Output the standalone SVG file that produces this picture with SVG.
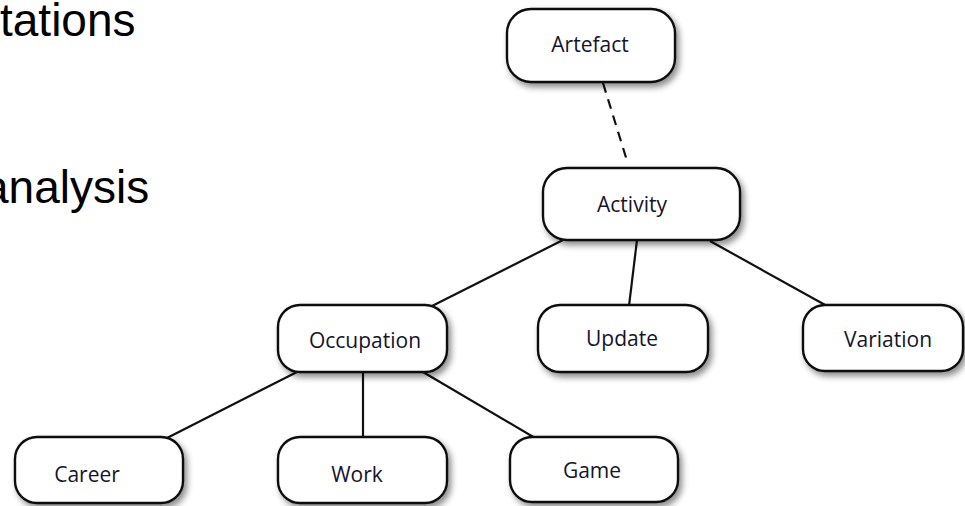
<svg xmlns="http://www.w3.org/2000/svg" width="965" height="506" viewBox="0 0 965 506">
<style>
.box{fill:#fff;stroke:#111;stroke-width:2.4;filter:url(#sh)}
.lbl{font-family:"Open Sans","Noto Sans",sans-serif;font-size:21px;fill:#14142a;text-anchor:middle}
.big{font-family:"Liberation Sans",Arial,sans-serif;font-size:46px;fill:#000}
.edge{stroke:#111;stroke-width:2.2;fill:none}
</style>
<defs>
<filter id="sh" x="-20%" y="-30%" width="150%" height="170%">
<feDropShadow dx="3" dy="4" stdDeviation="3" flood-color="#000" flood-opacity="0.45"/>
</filter>
</defs>
<rect width="965" height="506" fill="#fff"/>
<text class="big" x="0" y="36">tations</text>
<text class="big" x="-17" y="203">analysis</text>
<g id="connectors">
<line class="edge" x1="603" y1="83" x2="628" y2="164" stroke-dasharray="10,7"/>
<line class="edge" x1="563" y1="240" x2="432" y2="306"/>
<line class="edge" x1="637" y1="240" x2="629" y2="306"/>
<line class="edge" x1="710" y1="241" x2="827" y2="306"/>
<line class="edge" x1="297" y1="372" x2="167" y2="438"/>
<line class="edge" x1="363" y1="372" x2="363" y2="438"/>
<line class="edge" x1="423" y1="372" x2="535" y2="438"/>
</g>
<g id="artefact"><rect class="box" x="507" y="9" width="168" height="73" rx="24"/><text class="lbl" x="590" y="52">Artefact</text></g>
<g id="activity"><rect class="box" x="543" y="168" width="197" height="72" rx="24"/><text class="lbl" x="632" y="212">Activity</text></g>
<g id="occupation"><rect class="box" x="278" y="305" width="169" height="67" rx="22"/><text class="lbl" x="365" y="348">Occupation</text></g>
<g id="update"><rect class="box" x="538" y="305" width="170" height="67" rx="22"/><text class="lbl" x="622" y="346">Update</text></g>
<g id="variation"><rect class="box" x="803" y="305" width="160" height="66" rx="22"/><text class="lbl" x="888" y="347">Variation</text></g>
<g id="career"><rect class="box" x="15" y="437" width="168" height="66" rx="22"/><text class="lbl" x="87" y="482">Career</text></g>
<g id="work"><rect class="box" x="278" y="437" width="169" height="66" rx="22"/><text class="lbl" x="357" y="482">Work</text></g>
<g id="game"><rect class="box" x="510" y="437" width="168" height="65" rx="22"/><text class="lbl" x="592" y="478">Game</text></g>
</svg>
